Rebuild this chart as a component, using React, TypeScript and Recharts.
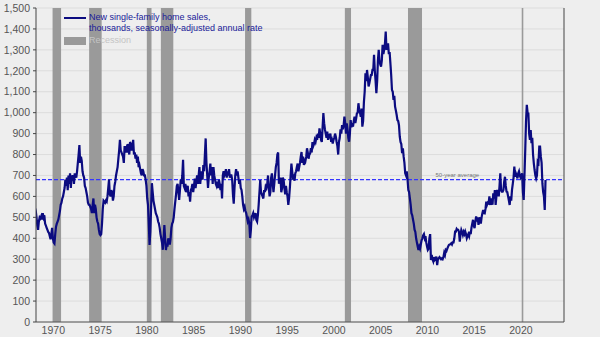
import React from "react";
import {
  LineChart,
  Line,
  XAxis,
  YAxis,
  CartesianGrid,
  ReferenceArea,
  ReferenceLine,
  ReferenceDot,
} from "recharts";

// monthly SAAR, thousands, Jan 1968 onward
const sales1960s = [
  545, 530, 500, 460, 440, 480, 500, 495, 505, 490, 520, 500,
  510, 470, 460, 450, 440, 430, 425, 410, 395, 420, 450, 400,
];
const sales1970s = [
  380, 375, 420, 455, 470, 480, 490, 510, 530, 560, 570, 590,
  600, 620, 640, 680, 650, 690, 630, 700, 660, 710, 640, 700,
  690, 700, 660, 710, 700, 690, 720, 760, 800, 845, 760, 790,
  770, 720, 700, 690, 650, 640, 620, 600, 570, 560, 560, 550,
  540, 520, 560, 590, 520, 560, 540, 500, 480, 470, 440, 420,
  415, 420, 470, 540, 580, 575, 570, 580, 575, 600, 640, 680,
  610, 600, 630, 620, 580, 600, 650, 670, 700, 720, 740, 780,
  820, 870, 820, 810, 800, 790, 760, 840, 820, 830, 810, 850,
  830, 800, 860, 850, 820, 830, 870, 800, 810, 780, 800, 760,
  790, 740, 750, 730, 710, 700, 730, 720, 700, 700, 680, 650,
];
const sales1980s = [
  590, 560, 470, 368, 430, 550, 663, 620, 580, 560, 540, 520,
  510, 500, 480, 470, 450, 420, 400, 380, 345, 400, 463, 400,
  344, 370, 360, 400, 383, 370, 400, 450, 470, 478, 500, 540,
  575, 610, 650, 660, 620, 583, 630, 680, 660, 700, 775, 650,
  640, 660, 620, 640, 650, 600, 620, 575, 630, 640, 660, 620,
  650, 685, 640, 670, 700, 660, 700, 740, 660, 700, 720, 680,
  750, 720, 800, 877, 760, 700, 640, 690, 720, 757, 700, 740,
  660, 740, 700, 680, 660, 650, 670, 640, 680, 660, 630, 660,
  590, 700, 720, 700, 710, 730, 690, 720, 700, 730, 690, 700,
  700, 680, 610, 565, 640, 700, 730, 700, 720, 690, 660, 680,
];
const sales1990s = [
  640, 631, 600, 560, 540, 550, 530, 520, 500, 480, 490, 470,
  401, 440, 504, 510, 520, 500, 510, 520, 488, 480, 510, 560,
  620, 678, 620, 610, 600, 590, 630, 620, 647, 640, 660, 700,
  640, 600, 620, 690, 710, 660, 620, 660, 700, 740, 760, 800,
  810, 660, 680, 690, 620, 640, 690, 680, 640, 610, 650, 620,
  600, 560, 590, 640, 700, 757, 720, 680, 690, 675, 710, 720,
  740, 757, 720, 740, 760, 790, 812, 760, 790, 750, 780, 770,
  790, 830, 810, 780, 800, 805, 830, 810, 860, 840, 850, 870,
  860, 880, 870, 900, 880, 925, 900, 870, 860, 930, 998, 950,
  920, 900, 880, 910, 870, 890, 885, 900, 860, 870, 853, 870,
];
const sales2000s = [
  880, 900, 885, 860, 840, 800, 860, 880, 920, 900, 940, 920,
  940, 981, 950, 900, 949, 920, 880, 861, 900, 965, 930, 950,
  933, 960, 981, 950, 970, 997, 1000, 1045, 1013, 1000, 980, 1020,
  933, 960, 1050, 1100, 1188, 1150, 1204, 1170, 1125, 1140, 1160, 1180,
  1180, 1204, 1204, 1276, 1200, 1150, 1093, 1150, 1250, 1300, 1250, 1230,
  1220, 1250, 1324, 1280, 1300, 1330, 1387, 1300, 1320, 1331, 1280, 1290,
  1236, 1180, 1109, 1100, 1061, 1080, 1029, 1010, 990, 965, 960, 940,
  886, 860, 850, 806, 830, 790, 760, 710, 700, 720, 680, 631,
  620, 590, 560, 520, 510, 490, 470, 441, 430, 400, 380, 360,
  344, 360, 350, 370, 390, 400, 414, 420, 400, 410, 380, 360,
];
const sales2010s = [
  344, 350, 400, 420, 296, 320, 300, 290, 310, 296, 300, 312,
  272, 300, 304, 310, 305, 300, 304, 300, 310, 330, 320, 344,
  340, 350, 360, 368, 370, 372, 376, 370, 380, 380, 400, 432,
  432, 445, 440, 440, 430, 384, 420, 440, 430, 416, 430, 420,
  432, 420, 400, 410, 420, 410, 432, 420, 450, 470, 488, 460,
  448, 480, 504, 480, 500, 464, 490, 500, 470, 500, 520, 535,
  520, 519, 540, 575, 560, 570, 567, 600, 560, 570, 590, 560,
  615, 590, 630, 559, 600, 631, 620, 600, 650, 710, 630, 623,
  623, 631, 670, 694, 650, 623, 620, 600, 580, 559, 600, 580,
  631, 660, 690, 742, 694, 710, 700, 686, 710, 720, 700, 690,
];
const sales2020s = [
  700, 710, 620, 583, 700, 822, 960, 1037, 1000, 997, 900, 870,
  917, 854, 880, 800, 758, 726, 700, 686, 700, 766, 760, 838,
  838, 790, 760, 662, 620, 600, 535, 678,
];

const recessions = [
  [1969.92, 1970.83],
  [1973.83, 1975.17],
  [1980.0, 1980.5],
  [1981.5, 1982.83],
  [1990.5, 1991.17],
  [2001.17, 2001.83],
  [2007.92, 2009.42],
  [2020.08, 2020.25],
];

const yearTicks = [1970, 1975, 1980, 1985, 1990, 1995, 2000, 2005, 2010, 2015, 2020];
const valueTicks = [0, 100, 200, 300, 400, 500, 600, 700, 800, 900, 1000, 1100, 1200, 1300, 1400, 1500];
const fiftyYearAverage = 680;

const allSales = [...sales1960s, ...sales1970s, ...sales1980s, ...sales1990s, ...sales2000s, ...sales2010s, ...sales2020s];
const data = allSales.map((v, i) => ({ t: 1968 + i / 12 + 0.04, sales: v }));

const fmt = (v: number) => v.toLocaleString("en-US");
const tickStyle = { fill: "#555", fontSize: 10.5, fontFamily: "Arial, 'Liberation Sans', sans-serif" };

// dashed average line, drawn with an explicit stroke
const AvgLine = (props: any) => {
  const { x1, x2, y1, y2 } = props;
  return <line x1={x1} x2={x2} y1={y1} y2={y2} stroke="#3535ff" strokeWidth={1.2} strokeDasharray="4 2" />;
};

export default function App() {
  return (
    <div style={{ position: "fixed", left: 0, top: 0, width: 600, height: 337, background: "#eeeeee" }}>
      <LineChart width={600} height={337} data={data} margin={{ top: 8, right: 0, left: 0, bottom: 0 }}>
        <CartesianGrid vertical={false} stroke="#dcdcdc" yAxisId="left" />
        {recessions.map(([a, b]) => (
          <ReferenceArea key={a} yAxisId="left" x1={a} x2={b} y1={0} y2={1500} fill="#9a9a9a" fillOpacity={1} stroke="none" />
        ))}
        <XAxis
          dataKey="t"
          type="number"
          domain={[1968.15, 2024.6]}
          allowDataOverflow
          ticks={yearTicks}
          tick={tickStyle}
          tickLine={false}
          tickSize={0}
          tickMargin={5}
          height={15}
          stroke="#555"
        />
        <YAxis
          yAxisId="left"
          domain={[0, 1500]}
          ticks={valueTicks}
          tickFormatter={fmt}
          tick={tickStyle}
          tickSize={3}
          tickMargin={3}
          width={36}
          stroke="#444"
          interval={0}
        />
        <YAxis
          yAxisId="right"
          orientation="right"
          domain={[0, 1500]}
          ticks={valueTicks}
          tickFormatter={fmt}
          tick={tickStyle}
          tickSize={3}
          tickMargin={3}
          width={36}
          stroke="#444"
          interval={0}
        />
        <ReferenceLine yAxisId="left" y={fiftyYearAverage} shape={AvgLine} />
        <ReferenceDot
          yAxisId="left"
          x={2013.2}
          y={fiftyYearAverage}
          r={0}
          stroke="none"
          label={{ value: "50-year average", position: "top", offset: 3, fill: "#777", fontSize: 6, fontFamily: "Arial, sans-serif" }}
        />
        <Line
          yAxisId="left"
          type="linear"
          dataKey="sales"
          stroke="#0b0b80"
          strokeWidth={2.2}
          dot={false}
          isAnimationActive={false}
        />
      </LineChart>
      <div style={{ position: "absolute", left: 64, top: 12, fontFamily: "Arial, 'Liberation Sans', sans-serif", fontSize: 9, lineHeight: "11px" }}>
        <div style={{ display: "flex", alignItems: "flex-start" }}>
          <span style={{ width: 22, height: 2, background: "#0b0b80", marginTop: 5, marginRight: 3 }} />
          <span style={{ color: "#1a1a99" }}>
            New single-family home sales,
            <br />
            thousands, seasonally-adjusted annual rate
          </span>
        </div>
        <div style={{ display: "flex", alignItems: "center", marginTop: 1 }}>
          <span style={{ width: 22, height: 8, background: "#9a9a9a", marginRight: 3 }} />
          <span style={{ color: "#c4c4c4" }}>Recession</span>
        </div>
      </div>
    </div>
  );
}
